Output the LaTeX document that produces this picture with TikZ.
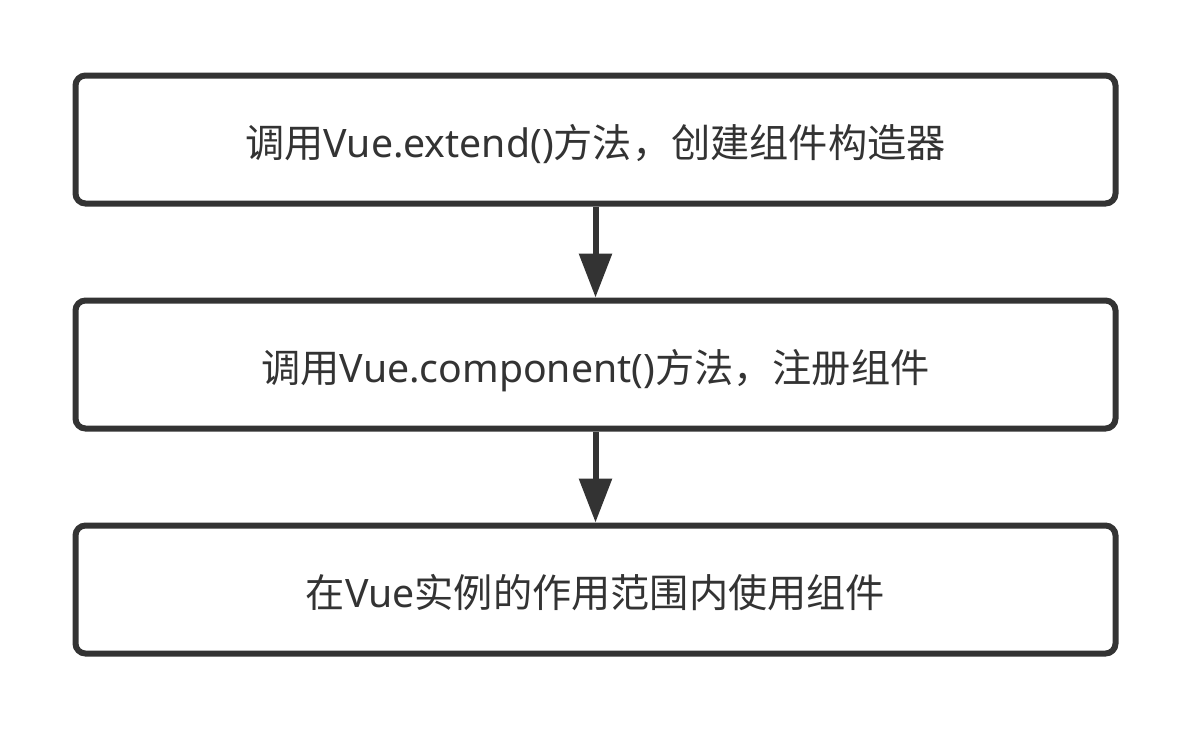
\documentclass[tikz,border=0pt]{standalone}
\usepackage{fontspec}
\setmainfont{Noto Sans CJK SC}
\newfontfamily\latinf{Noto Sans}
\usetikzlibrary{arrows.meta}
\definecolor{ink}{HTML}{333333}
\newcommand{\lt}[1]{{\latinf #1}}
\newcommand{\lowered}[1]{\raisebox{-17.5pt}[0pt][0pt]{#1}}
\tikzset{
  stepbox/.style={draw=ink, line width=6pt, rounded corners=10pt, minimum width=1040pt, minimum height=128pt, inner sep=0pt, text=ink, font=\fontsize{39.2}{42}\selectfont},
  flow/.style={draw=ink, line width=6pt, -{Triangle[length=44pt,width=32pt]}}
}
\begin{document}
\begin{tikzpicture}[x=1pt,y=-1pt]
\useasboundingbox (0,0) rectangle (1191,729);
\node[stepbox] (a) at (595.5,139.5) {\lowered{调用\lt{Vue.extend()}方法，创建组件构造器}};
\node[stepbox] (b) at (595.5,364.5) {\lowered{调用\lt{Vue.component()}方法，注册组件}};
\node[stepbox] (c) at (595.5,589.5) {\lowered{在\lt{Vue}实例的作用范围内使用组件}};
\draw[flow] (a.south) -- (b.north);
\draw[flow] (b.south) -- (c.north);
\end{tikzpicture}
\end{document}
